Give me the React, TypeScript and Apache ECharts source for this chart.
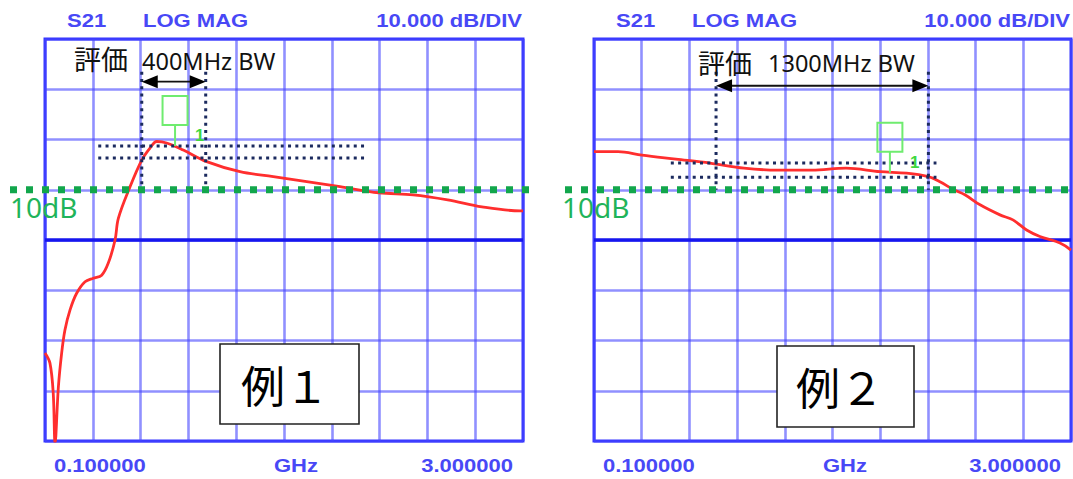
import React, { useEffect, useRef } from "react";
import * as echarts from "echarts";

// ---- axis ranges ----
const freqStartGHz = 0.1;
const freqStopGHz = 3.0;
const dBMin = -40;
const dBMax = 40;
const dBPerDiv = 10;
const freqDivisions = 10;

// ---- header / footer texts ----
const headerLabels = ["S21", "LOG MAG", "10.000 dB/DIV"];
const footerLabels = ["0.100000", "GHz", "3.000000"];

// ---- example 1 trace ----
const ex1Freq = [0.1, 0.13, 0.15, 0.161, 0.181, 0.201, 0.221, 0.252, 0.292, 0.343, 0.393, 0.444, 0.484, 0.525, 0.545, 0.616, 0.687, 0.737, 0.778, 0.838, 0.939, 1.081, 1.283, 1.485, 1.688, 1.89, 2.125, 2.333, 2.543, 2.751, 2.982, 3.0];
const ex1dB = [-22.5, -24.5, -30.5, -40.5, -29.3, -22.5, -17.9, -13.9, -10.6, -8.3, -7.6, -7.0, -4.6, 0, 4.3, 10.6, 15.9, 18.3, 19.6, 19.3, 17.9, 15.6, 13.6, 12.6, 11.6, 10.6, 9.4, 9.0, 8.0, 6.6, 5.8, 5.8];

// ---- example 2 trace ----
const ex2Freq = [0.1, 0.246, 0.392, 0.598, 0.805, 1.012, 1.219, 1.425, 1.632, 1.839, 2.001, 2.132, 2.203, 2.282, 2.355, 2.447, 2.568, 2.647, 2.73, 2.811, 2.933, 3.0];
const ex2dB = [17.6, 17.6, 16.9, 16.1, 15.3, 14.3, 13.9, 13.9, 14.3, 13.6, 13.3, 12.6, 11.6, 10.1, 9.0, 7.0, 5.0, 4.0, 2.0, 0.7, -0.6, -2.0];

// ---- annotations ----
const refLevelDB = 10;
const refLevelLabel = "10dB";
const evalLabel = "評価";
const bwLabels = ["400MHz BW", "1300MHz BW"];
const exampleLabels = ["例１", "例２"];
const bwEdgesGHz = [[0.687, 1.075], [0.842, 2.133]];
const bwVerticalDB = [[33.5, 10.5], [33.5, 10.0]];
const bwArrowDB = [31.5, 30.7];
const bandLevelsDB = [[18.7, 16.3], [15.3, 12.5]];
const bandSpanGHz = [[0.423, 2.041], [0.567, 2.182]];
const markerGHz = [0.889, 1.899];
const markerDB = [18.7, 13.4];
const markerLabel = "1";

// ---- layout (pixels) ----
const grids = [
  { left: 45, top: 39, width: 478, height: 402 },
  { left: 594, top: 39, width: 477, height: 402 },
];
const layout = [
  {
    green: [10, 536], greenText: [10, 207],
    evalText: [74, 58], bwText: [142, 61],
    box: [220, 344, 139, 80], boxText: [241, 384],
  },
  {
    green: [565, 1073], greenText: [562, 207],
    evalText: [698, 62], bwText: [768, 63],
    box: [777, 346, 137, 81], boxText: [796, 386],
  },
];

const GRID_COLOR = "rgba(70,70,255,0.6)";
const BLUE_TEXT = "#4848f6";
const NAVY = "#1b2a5e";
const GREEN_DOT = "#12a64c";
const GREEN_TEXT = "#1fb45a";
const MARKER_GREEN = "#6fec6f";

export default function App() {
  const ref = useRef<HTMLDivElement>(null);

  useEffect(() => {
    const el = ref.current;
    if (!el) return;
    const chart = echarts.init(el, null, { renderer: "svg" });

    const traces = [
      ex1Freq.map((f, i) => [f, ex1dB[i]]),
      ex2Freq.map((f, i) => [f, ex2dB[i]]),
    ];

    const xAxis: any[] = [];
    const yAxis: any[] = [];
    grids.forEach((_, g) => {
      xAxis.push({ type: "value", gridIndex: g, min: freqStartGHz, max: freqStopGHz, show: false });
      xAxis.push({
        type: "value", gridIndex: g, min: 0, max: freqDivisions, interval: 1,
        axisLine: { show: false }, axisTick: { show: false }, axisLabel: { show: false },
        splitLine: { show: true, lineStyle: { color: GRID_COLOR, width: 2.6 } },
      });
      yAxis.push({
        type: "value", gridIndex: g, min: dBMin, max: dBMax, interval: dBPerDiv,
        axisLine: { show: false }, axisTick: { show: false }, axisLabel: { show: false },
        splitLine: { show: true, lineStyle: { color: GRID_COLOR, width: 2.6 } },
      });
    });

    chart.setOption({
      animation: false,
      backgroundColor: "#ffffff",
      grid: grids.map((g) => ({ ...g, show: true, borderColor: "#3434ff", borderWidth: 3, backgroundColor: "transparent" })),
      xAxis,
      yAxis,
      series: traces.map((data, g) => ({
        type: "line",
        xAxisIndex: g * 2,
        yAxisIndex: g,
        data,
        symbol: "none",
        showSymbol: false,
        smooth: 0.35,
        clip: true,
        z: 5,
        lineStyle: { color: "#ff2e2e", width: 2.8 },
        markLine: {
          silent: true,
          symbol: "none",
          label: { show: false },
          lineStyle: { color: "#1616ee", width: 3.6, type: "solid" },
          data: [{ yAxis: 0 }],
        },
      })),
    });

    const els: any[] = [];
    const blueText = (text: string, x: number, y: number, align: string) => ({
      type: "text", x, y, scaleX: 1.16, z: 20,
      style: { text, x: 0, y: 0, align, verticalAlign: "middle", fill: BLUE_TEXT, fontFamily: "Liberation Sans", fontWeight: "bold", fontSize: 19 },
    });

    grids.forEach((g, c) => {
      const X = (f: number) => chart.convertToPixel({ xAxisIndex: c * 2 } as any, f) as unknown as number;
      const Y = (v: number) => chart.convertToPixel({ yAxisIndex: c } as any, v) as unknown as number;
      const L = layout[c];
      const right = g.left + g.width;

      // headers & footers
      els.push(blueText(headerLabels[0], g.left + 22, 20, "left"));
      els.push(blueText(headerLabels[1], g.left + 98, 20, "left"));
      els.push(blueText(headerLabels[2], right - 1, 20, "right"));
      els.push(blueText(footerLabels[0], g.left + 9, 465, "left"));
      els.push(blueText(footerLabels[1], g.left + 251, 465, "center"));
      els.push(blueText(footerLabels[2], right - 10, 465, "right"));

      // green reference line
      const yRef = Y(refLevelDB);
      els.push({
        type: "line", z: 12, silent: true,
        shape: { x1: L.green[0], y1: yRef, x2: L.green[1], y2: yRef },
        style: { stroke: GREEN_DOT, lineWidth: 7, lineDash: [7, 9] },
      });
      els.push({
        type: "text", z: 13, x: L.greenText[0], y: L.greenText[1],
        style: { text: refLevelLabel, x: 0, y: 0, align: "left", verticalAlign: "middle", fill: GREEN_TEXT, fontFamily: "Noto Sans", fontSize: 28 },
      });

      // dotted band lines
      bandLevelsDB[c].forEach((lv) => {
        els.push({
          type: "line", z: 11, silent: true,
          shape: { x1: X(bandSpanGHz[c][0]), y1: Y(lv), x2: X(bandSpanGHz[c][1]), y2: Y(lv) },
          style: { stroke: NAVY, lineWidth: 3, lineDash: [3, 4.3] },
        });
      });
      bwEdgesGHz[c].forEach((f) => {
        els.push({
          type: "line", z: 11, silent: true,
          shape: { x1: X(f), y1: Y(bwVerticalDB[c][0]), x2: X(f), y2: Y(bwVerticalDB[c][1]) },
          style: { stroke: NAVY, lineWidth: 3, lineDash: [3, 4.3] },
        });
      });

      // arrow
      const xa = X(bwEdgesGHz[c][0]);
      const xb = X(bwEdgesGHz[c][1]);
      const ya = Y(bwArrowDB[c]);
      els.push({ type: "line", z: 14, shape: { x1: xa + 8, y1: ya, x2: xb - 8, y2: ya }, style: { stroke: "#111", lineWidth: 1.8 } });
      els.push({ type: "polygon", z: 14, shape: { points: [[xa, ya], [xa + 16, ya - 6.5], [xa + 16, ya + 6.5]] }, style: { fill: "#000" } });
      els.push({ type: "polygon", z: 14, shape: { points: [[xb, ya], [xb - 16, ya - 6.5], [xb - 16, ya + 6.5]] }, style: { fill: "#000" } });

      // eval texts
      els.push({
        type: "text", z: 15, x: L.evalText[0], y: L.evalText[1],
        style: { text: evalLabel, x: 0, y: 0, align: "left", verticalAlign: "middle", fill: "#111", fontFamily: "Noto Sans CJK JP", fontSize: 27 },
      });
      els.push({
        type: "text", z: 15, x: L.bwText[0], y: L.bwText[1],
        style: { text: bwLabels[c], x: 0, y: 0, align: "left", verticalAlign: "middle", fill: "#111", fontFamily: "Noto Sans", fontSize: 23.5 },
      });

      // marker
      const mx = X(markerGHz[c]);
      const my = Y(markerDB[c]);
      els.push({ type: "rect", z: 14, shape: { x: mx - 12.5, y: my - 50, width: 25, height: 29 }, style: { fill: "none", stroke: MARKER_GREEN, lineWidth: 2 } });
      els.push({ type: "line", z: 14, shape: { x1: mx, y1: my - 21, x2: mx, y2: my }, style: { stroke: MARKER_GREEN, lineWidth: 2 } });
      els.push({
        type: "text", z: 14, x: mx + 20, y: my - 2,
        style: { text: markerLabel, x: 0, y: 0, align: "left", verticalAlign: "bottom", fill: "#3fd83f", fontFamily: "Liberation Sans", fontWeight: "bold", fontSize: 17 },
      });

      // example box
      els.push({
        type: "rect", z: 16,
        shape: { x: L.box[0], y: L.box[1], width: L.box[2], height: L.box[3] },
        style: { fill: "#ffffff", stroke: "#222", lineWidth: 1.6 },
      });
      els.push({
        type: "text", z: 17, x: L.boxText[0], y: L.boxText[1],
        style: { text: exampleLabels[c], x: 0, y: 0, align: "left", verticalAlign: "middle", fill: "#000", fontFamily: "Noto Sans CJK JP", fontSize: 44 },
      });
    });

    chart.setOption({ graphic: { elements: els } });

    return () => {
      chart.dispose();
    };
  }, []);

  return (
    <div style={{ position: "fixed", left: 0, top: 0, width: 1073, height: 479, background: "#fff" }}>
      <div ref={ref} style={{ width: 1073, height: 479 }} />
    </div>
  );
}
